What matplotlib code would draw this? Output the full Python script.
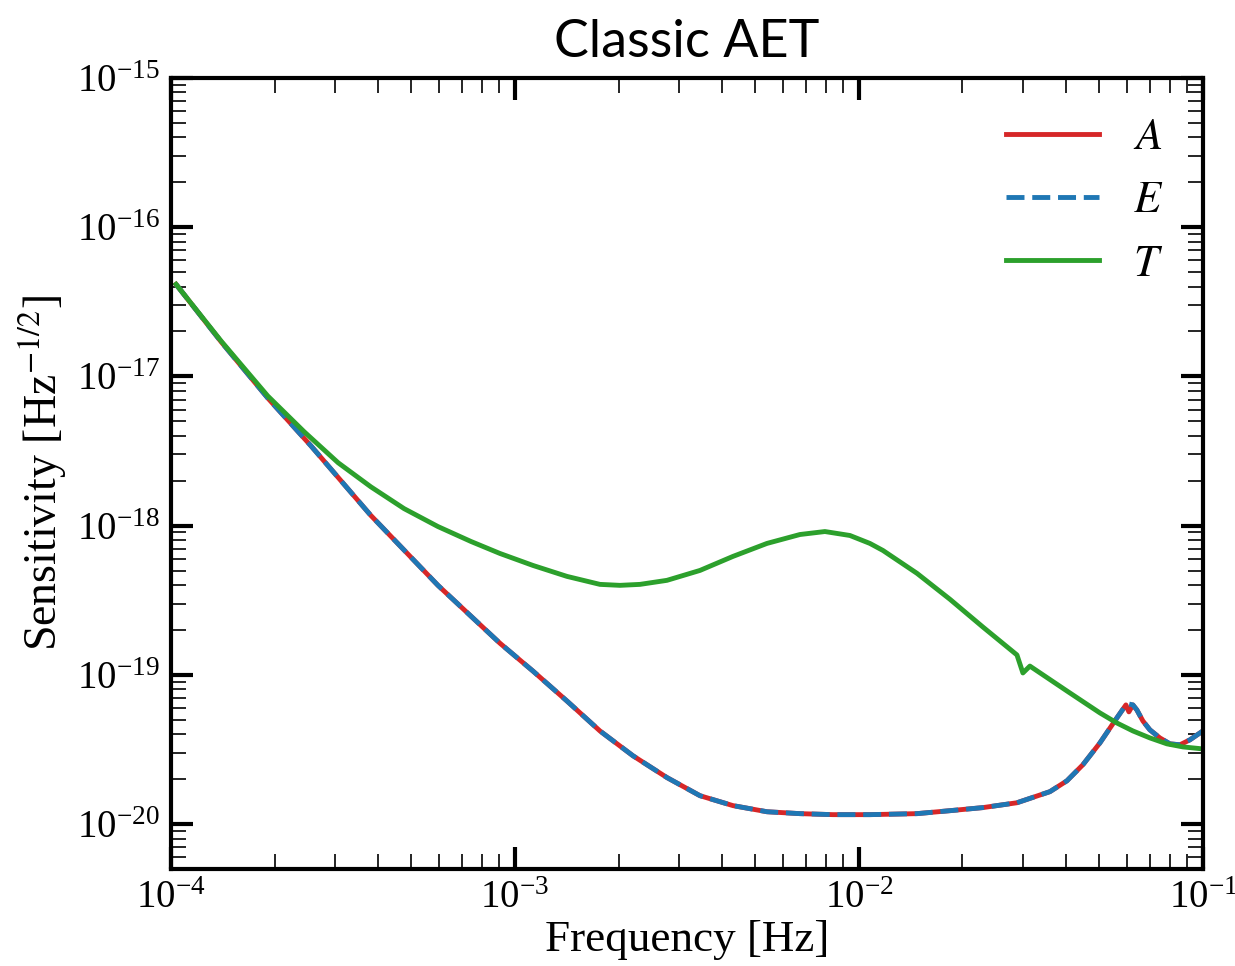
import matplotlib
import matplotlib.pyplot as plt
from matplotlib.ticker import NullFormatter

matplotlib.use('Agg')

plt.rcParams['font.family'] = 'Liberation Serif'
plt.rcParams['mathtext.fontset'] = 'stix'

OUTPUT_PATH = "out.png"

# A channel (red) / E channel (blue)
freq_ae = [1.034e-4, 1.40e-4, 1.91e-4, 2.55e-4, 3.81e-4, 5.97e-4, 9.04e-4, 1.128e-3,
           1.416e-3, 1.766e-3, 2.203e-3, 2.766e-3, 3.450e-3, 4.302e-3, 5.402e-3,
           6.737e-3, 8.400e-3, 1.076e-2, 1.475e-2, 1.839e-2, 2.294e-2, 2.880e-2,
           3.592e-2, 4.024e-2, 4.479e-2, 5.019e-2, 5.623e-2, 5.973e-2, 6.094e-2,
           6.259e-2, 6.428e-2, 6.692e-2, 7.013e-2, 7.499e-2, 8.018e-2, 8.576e-2,
           9.168e-2, 1.0e-1]
sens_a = [4.14e-17, 1.70e-17, 7.17e-18, 3.43e-18, 1.17e-18, 3.98e-19, 1.63e-19, 1.06e-19,
          6.68e-20, 4.21e-20, 2.87e-20, 2.05e-20, 1.55e-20, 1.33e-20, 1.21e-20,
          1.175e-20, 1.157e-20, 1.157e-20, 1.175e-20, 1.23e-20, 1.29e-20, 1.39e-20,
          1.65e-20, 1.95e-20, 2.50e-20, 3.50e-20, 5.15e-20, 6.29e-20, 5.65e-20,
          6.29e-20, 5.82e-20, 4.91e-20, 4.28e-20, 3.78e-20, 3.45e-20, 3.40e-20,
          3.67e-20, 4.21e-20]
sens_e = [4.14e-17, 1.70e-17, 7.17e-18, 3.43e-18, 1.17e-18, 3.98e-19, 1.63e-19, 1.06e-19,
          6.68e-20, 4.21e-20, 2.87e-20, 2.05e-20, 1.55e-20, 1.33e-20, 1.21e-20,
          1.175e-20, 1.157e-20, 1.157e-20, 1.175e-20, 1.23e-20, 1.29e-20, 1.39e-20,
          1.65e-20, 1.95e-20, 2.50e-20, 3.50e-20, 5.15e-20, 6.29e-20, 6.38e-20,
          6.29e-20, 5.82e-20, 4.91e-20, 4.28e-20, 3.78e-20, 3.45e-20, 3.40e-20,
          3.67e-20, 4.21e-20]

# T channel (green)
freq_t = [1.034e-4, 1.40e-4, 1.91e-4, 2.44e-4, 3.06e-4, 3.81e-4, 4.76e-4, 5.97e-4,
          7.45e-4, 9.04e-4, 1.128e-3, 1.416e-3, 1.766e-3, 2.019e-3, 2.309e-3,
          2.766e-3, 3.450e-3, 4.302e-3, 5.402e-3, 6.737e-3, 7.963e-3, 9.415e-3,
          1.076e-2, 1.174e-2, 1.475e-2, 1.839e-2, 2.294e-2, 2.880e-2, 2.997e-2,
          3.141e-2, 4.024e-2, 5.019e-2, 5.623e-2, 6.259e-2, 7.013e-2, 7.858e-2,
          8.750e-2, 1.0e-1]
sens_t = [4.14e-17, 1.72e-17, 7.40e-18, 4.25e-18, 2.64e-18, 1.82e-18, 1.30e-18, 9.86e-19,
          7.83e-19, 6.51e-19, 5.41e-19, 4.57e-19, 4.04e-19, 3.98e-19, 4.04e-19,
          4.30e-19, 5.01e-19, 6.22e-19, 7.60e-19, 8.72e-19, 9.13e-19, 8.59e-19,
          7.60e-19, 6.82e-19, 4.79e-19, 3.21e-19, 2.09e-19, 1.36e-19, 1.03e-19,
          1.145e-19, 7.80e-20, 5.56e-20, 4.76e-20, 4.21e-20, 3.78e-20, 3.45e-20,
          3.29e-20, 3.19e-20]

fig = plt.figure(figsize=(12.35, 9.66), dpi=100)
ax = fig.add_axes([0.1385, 0.1004, 0.8355, 0.8189])

ax.plot(freq_ae, sens_a, color='tab:red', lw=3.5, label='$A$')
ax.plot(freq_ae, sens_e, color='tab:blue', lw=3.5, ls='--', label='$E$')
ax.plot(freq_t, sens_t, color='tab:green', lw=3.5, label='$T$')

ax.set_xscale('log')
ax.set_yscale('log')
ax.set_xlim(1e-4, 1e-1)
ax.set_ylim(5e-21, 1e-15)
ax.xaxis.set_minor_formatter(NullFormatter())
ax.yaxis.set_minor_formatter(NullFormatter())

ax.set_title("Classic AET", family='Lato', fontsize=37.5, pad=15)
ax.set_xlabel("Frequency [Hz]", fontsize=32.5, labelpad=2)
ax.set_ylabel("Sensitivity [Hz$^{-1/2}$]", fontsize=33, labelpad=6)

for s in ax.spines.values():
    s.set_linewidth(3)
ax.tick_params(which='both', direction='in', top=True, right=True)
ax.tick_params(which='major', length=16, width=3, labelsize=28, pad=8)
ax.tick_params(which='minor', length=11, width=1.2)

ax.legend(loc='upper right', frameon=False, fontsize=32, handlelength=2.1,
          handletextpad=0.75, labelspacing=0.52)

plt.savefig(OUTPUT_PATH, dpi=100)
plt.close()
